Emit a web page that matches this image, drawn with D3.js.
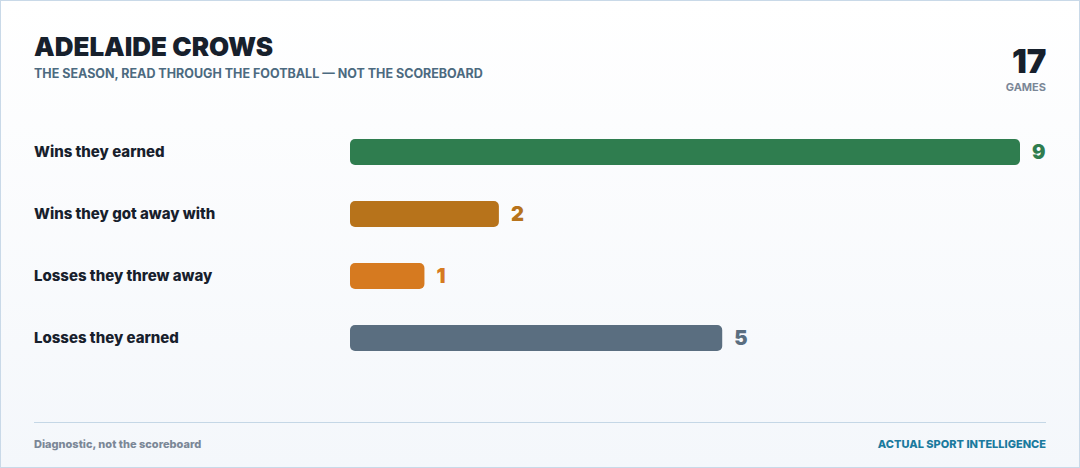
<!DOCTYPE html>
<html>
<head>
<meta charset="utf-8">
<script src="https://cdn.jsdelivr.net/npm/d3@7"></script>
<style>
    html, body { margin: 0; padding: 0; background: #fff; }
    svg { display: block; font-family: Inter, "Noto Sans", sans-serif; }
</style>
</head>
<body>
<div id="chart"></div>
<script>
"use strict";

// Data
const categories = ["Wins they earned", "Wins they got away with", "Losses they threw away", "Losses they earned"];
const counts = [9, 2, 1, 5];
const colours = ["#2f7d4f", "#b7731b", "#d67a20", "#5a6e80"];
const totalGames = 17;

const width = 1080, height = 468;
const margin = { left: 34, right: 34 };

const svg = d3.select("#chart").append("svg")
    .attr("width", width)
    .attr("height", height);

// Card background with soft gradient
const defs = svg.append("defs");
const grad = defs.append("linearGradient")
    .attr("id", "bg")
    .attr("x1", 0).attr("y1", 0).attr("x2", 0).attr("y2", 1);
grad.append("stop").attr("offset", "0%").attr("stop-color", "#ffffff");
grad.append("stop").attr("offset", "100%").attr("stop-color", "#f4f7fb");

svg.append("rect")
    .attr("x", 0.5).attr("y", 0.5)
    .attr("width", width - 1).attr("height", height - 1)
    .attr("fill", "url(#bg)")
    .attr("stroke", "#c9d9e8")
    .attr("stroke-width", 1);

// Header
svg.append("text")
    .attr("x", margin.left).attr("y", 56)
    .attr("font-size", 26).attr("font-weight", 900)
    .attr("fill", "#17202c")
    .text("ADELAIDE CROWS");

svg.append("text")
    .attr("x", margin.left).attr("y", 78)
    .attr("font-size", 12.5).attr("font-weight", 700)
    .attr("fill", "#4c6a80")
    .text("THE SEASON, READ THROUGH THE FOOTBALL — NOT THE SCOREBOARD");

svg.append("text")
    .attr("x", width - margin.right).attr("y", 73)
    .attr("text-anchor", "end")
    .attr("font-size", 33).attr("font-weight", 900)
    .attr("fill", "#17202c")
    .attr("letter-spacing", "-0.3")
    .text(totalGames);

svg.append("text")
    .attr("x", width - margin.right).attr("y", 91)
    .attr("text-anchor", "end")
    .attr("font-size", 11).attr("font-weight", 700)
    .attr("fill", "#7b8797")
    .text("GAMES");

// Scales
const xScale = d3.scaleLinear()
    .domain([0, d3.max(counts)])
    .range([350, 1020]);

const yScale = d3.scaleBand()
    .domain(categories)
    .range([121, 369])
    .paddingInner(0.58)
    .paddingOuter(0.29);

const rows = svg.append("g")
    .selectAll("g")
    .data(categories.map((c, i) => ({ name: c, value: counts[i], color: colours[i] })))
    .join("g")
    .attr("transform", d => `translate(0,${yScale(d.name)})`);

rows.append("text")
    .attr("x", margin.left)
    .attr("y", yScale.bandwidth() / 2)
    .attr("dy", "0.35em")
    .attr("font-size", 15).attr("font-weight", 800)
    .attr("fill", "#17202c")
    .text(d => d.name);

rows.append("rect")
    .attr("x", xScale(0))
    .attr("width", d => xScale(d.value) - xScale(0))
    .attr("height", yScale.bandwidth())
    .attr("rx", 5)
    .attr("fill", d => d.color);

rows.append("text")
    .attr("x", d => xScale(d.value) + 12)
    .attr("y", yScale.bandwidth() / 2)
    .attr("dy", "0.36em")
    .attr("font-size", 20).attr("font-weight", 900)
    .attr("fill", d => d.color)
    .text(d => d.value);

// Footer
svg.append("line")
    .attr("x1", margin.left).attr("x2", width - margin.right)
    .attr("y1", 422.5).attr("y2", 422.5)
    .attr("stroke", "#c5d7e6");

svg.append("text")
    .attr("x", margin.left).attr("y", 448)
    .attr("font-size", 11).attr("font-weight", 800)
    .attr("fill", "#7b8797")
    .text("Diagnostic, not the scoreboard");

svg.append("text")
    .attr("x", width - margin.right).attr("y", 448)
    .attr("text-anchor", "end")
    .attr("font-size", 11).attr("font-weight", 800)
    .attr("fill", "#1a7a9e")
    .text("ACTUAL SPORT INTELLIGENCE");
</script>
</body>
</html>
